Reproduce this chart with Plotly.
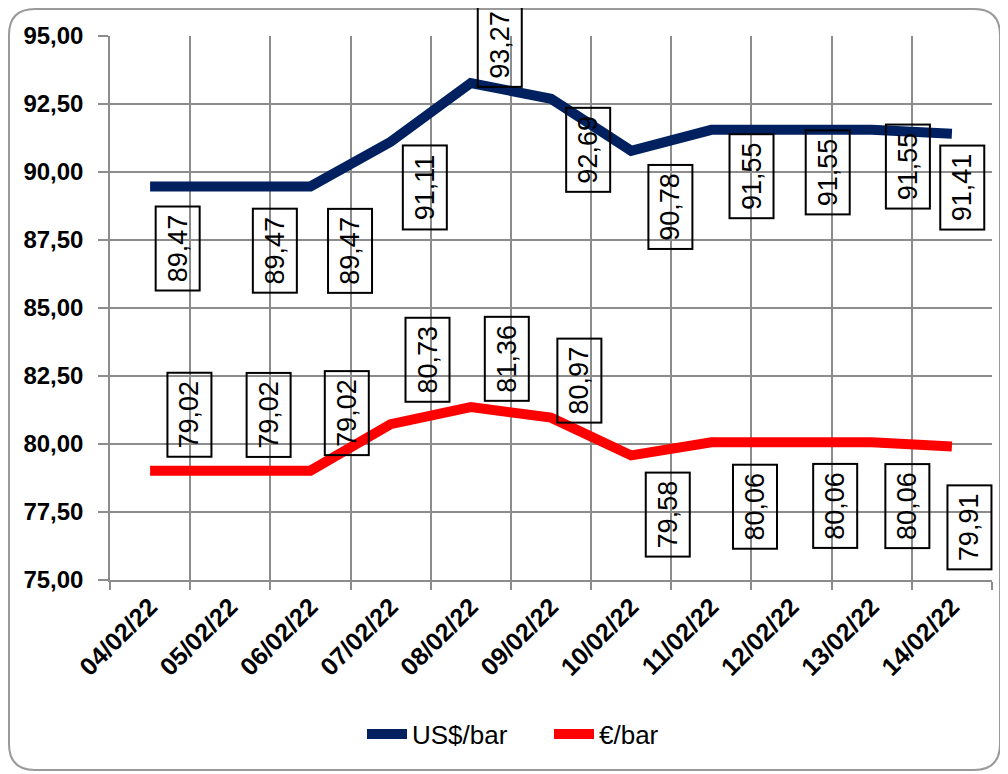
import plotly.graph_objects as go

dates = ["04/02/22", "05/02/22", "06/02/22", "07/02/22", "08/02/22", "09/02/22",
         "10/02/22", "11/02/22", "12/02/22", "13/02/22", "14/02/22"]
usd_bar = [89.47, 89.47, 89.47, 91.11, 93.27, 92.69, 90.78, 91.55, 91.55, 91.55, 91.41]
eur_bar = [79.02, 79.02, 79.02, 80.73, 81.36, 80.97, 79.58, 80.06, 80.06, 80.06, 79.91]

# label box offsets from their point (pixels, dx right, dy down)
usd_dx = [28, 45, 40, 34, 29, 37, 39, 40, 36, 36, 10]
usd_dy = [62, 64, 64, 46, -38, 51, 56, 46, 43, 37, 54]
eur_dx = [39, 38, 36, 37, 36, 28, 37, 44, 44, 36, 18]
eur_dy = [-56, -56, -58, -64, -48, -37, 59, 64, 64, 64, 81]

NAVY = "#002060"
RED = "#FF0000"
GRID = "#8c8c8c"
FONT = "Liberation Sans"

OFF = 8  # page body margin
W, H = 1000, 766
L, T = 110 - OFF, 36 - OFF
R = W - (992 - OFF)
B = H - (580 - OFF)
PW, PH = W - L - R, H - T - B


def px(x):
    return (x - OFF - L) / PW


def py(y):
    return (H - B - (y - OFF)) / PH


fig = go.Figure()
fig.add_trace(go.Scatter(x=dates, y=usd_bar, mode="lines", name="US$/bar",
                         line=dict(color=NAVY, width=10)))
fig.add_trace(go.Scatter(x=dates, y=eur_bar, mode="lines", name="€/bar",
                         line=dict(color=RED, width=10)))


def fmt(v):
    return f"{v:.2f}".replace(".", ",")


annotations = []
for vals, dxs, dys in ((usd_bar, usd_dx, usd_dy), (eur_bar, eur_dx, eur_dy)):
    for d, v, dx, dy in zip(dates, vals, dxs, dys):
        annotations.append(dict(
            x=d, y=v, xref="x", yref="y", text=fmt(v), showarrow=False,
            textangle=-90, xshift=dx, yshift=-dy,
            xanchor="center", yanchor="middle",
            width=78, height=38, borderpad=2, borderwidth=2,
            bordercolor="#000000", bgcolor="rgba(0,0,0,0)",
            font=dict(family=FONT, size=27, color="#000000"),
        ))

# rounded chart border
x0, y0, x1, y1, r = 9, 9, 1000, 770, 26
path = (f"M {px(x0)},{py(y0 + r)} Q {px(x0)},{py(y0)} {px(x0 + r)},{py(y0)} "
        f"L {px(x1 - r)},{py(y0)} Q {px(x1)},{py(y0)} {px(x1)},{py(y0 + r)} "
        f"L {px(x1)},{py(y1 - r)} Q {px(x1)},{py(y1)} {px(x1 - r)},{py(y1)} "
        f"L {px(x0 + r)},{py(y1)} Q {px(x0)},{py(y1)} {px(x0)},{py(y1 - r)} Z")

fig.update_layout(
    width=W, height=H,
    margin=dict(l=L, r=R, t=T, b=B, pad=0),
    paper_bgcolor="white", plot_bgcolor="white",
    separators=",.",
    annotations=annotations,
    shapes=[dict(type="path", path=path, xref="paper", yref="paper",
                 line=dict(color="#9a9a9a", width=2), layer="below")],
    showlegend=True,
    legend=dict(orientation="h", x=px(362), y=py(734), xanchor="left", yanchor="middle",
                font=dict(family=FONT, size=26, color="#000000"),
                bgcolor="rgba(0,0,0,0)", itemwidth=40, entrywidth=132,
                tracegroupgap=0),
    xaxis=dict(type="category", range=[-0.5, 10.5], tickson="boundaries",
               showgrid=True, gridcolor=GRID, gridwidth=1.5,
               showline=True, linecolor=GRID, linewidth=2,
               ticks="outside", ticklen=8, tickcolor=GRID, tickwidth=1.5,
               tickangle=-45,
               tickfont=dict(family=FONT, size=25, color="#000000", weight="bold"),
               fixedrange=True),
    yaxis=dict(range=[75, 95], dtick=2.5, tick0=75, tickformat=".2f",
               showgrid=True, gridcolor=GRID, gridwidth=1.5,
               showline=True, linecolor=GRID, linewidth=1.5,
               ticks="outside", ticklen=10, tickcolor=GRID, tickwidth=1.5,
               ticklabelstandoff=10,
               tickfont=dict(family=FONT, size=24, color="#000000", weight="bold"),
               zeroline=False, fixedrange=True),
)

fig.write_html("out.html")
